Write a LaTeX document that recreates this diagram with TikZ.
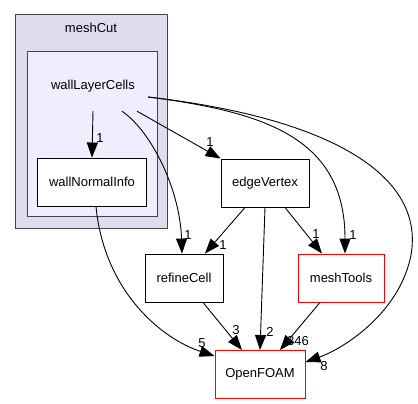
\documentclass[tikz,border=0pt]{standalone}
\usepackage{fontspec}
\setmainfont{Liberation Sans}
\usepackage{xcolor}
\usepackage{tikz}
\usetikzlibrary{positioning, arrows.meta, calc}

\definecolor{clusterfill}{HTML}{DDDDEE}
\definecolor{innerfill}{HTML}{EEEEFF}
\definecolor{clusterline}{HTML}{444444}

\begin{document}
\begin{tikzpicture}[
    x=1pt, y=-1pt,
    >={Triangle[length=15pt, width=11pt]},
    outerdir/.style={rectangle, draw=clusterline, fill=clusterfill, line width=1pt,
                     minimum width=152pt, minimum height=213pt},
    innerdir/.style={rectangle, draw=clusterline, fill=innerfill, line width=1pt,
                     minimum width=130pt, minimum height=164pt},
    dirbox/.style={rectangle, draw=black, fill=white, line width=0.9pt,
                   minimum height=48pt, align=center,
                   font=\fontsize{13}{15}\selectfont},
    extbox/.style={dirbox, draw=red},
    title/.style={font=\fontsize{13}{15}\selectfont},
    dep/.style={->, line width=0.9pt, black},
    lbl/.style={font=\fontsize{13}{15}\selectfont, inner sep=0pt},
]
\useasboundingbox (0,0) rectangle (418,404);

% Directory clusters
\node[outerdir] (meshCutBox) at (91,121.5) {};
\node[title] (meshCut) at (91,28) {meshCut};
\node[innerdir] (wallLayerBox) at (92,134) {};
\node[title, minimum width=110pt, minimum height=50pt] (wallLayerCells) at (93,86) {wallLayerCells};

% Directories
\node[dirbox, minimum width=109pt] (wallNormalInfo) at (92,182) {wallNormalInfo};
\node[dirbox, minimum width=88pt] (edgeVertex) at (265,183) {edgeVertex};
\node[dirbox, minimum width=78pt] (refineCell) at (184,278) {refineCell};
\node[extbox, minimum width=86pt] (meshTools) at (341,278) {meshTools};
\node[extbox, minimum width=90pt] (OpenFOAM) at (260,374.5) {OpenFOAM};

% === Dependencies ===
% from wallLayerCells
\draw[dep] (wallLayerCells.south) -- (wallNormalInfo.north);
\node[lbl] (l1) at (100,138) {1};
\draw[dep] ([xshift=29pt]wallLayerCells.south)
    .. controls (152,132) and (180,190) .. ([xshift=-2pt]refineCell.north);
\node[lbl] (l2) at (188,235) {1};
\draw[dep] ([xshift=44pt]wallLayerCells.south) -- (edgeVertex.north west);
\node[lbl] (l3) at (210,142) {1};
\draw[dep] ([yshift=-11pt]wallLayerCells.east)
    .. controls (265,112) and (345,138) .. ([xshift=4pt]meshTools.north);
\node[lbl] (l4) at (353,235) {1};
\draw[dep] ([yshift=-11pt]wallLayerCells.east)
    .. controls (330,118) and (425,175) .. (411,255)
    .. controls (400,312) and (345,348) .. ([yshift=-12pt]OpenFOAM.north east);
\node[lbl] (l5) at (324,366) {8};

% from wallNormalInfo
\draw[dep] ([xshift=4pt]wallNormalInfo.south)
    .. controls (104,290) and (160,338) .. ([yshift=-6pt]OpenFOAM.north west);
\node[lbl] (l6) at (202,343) {5};

% from edgeVertex
\draw[dep] ([xshift=-20pt]edgeVertex.south) -- ([xshift=21pt]refineCell.north);
\node[lbl] (l7) at (223,245) {1};
\draw[dep] (edgeVertex.south) -- (OpenFOAM.north);
\node[lbl] (l8) at (270,332) {2};
\draw[dep] ([xshift=20pt]edgeVertex.south) -- ([xshift=-19pt]meshTools.north);
\node[lbl] (l9) at (316,234) {1};

% into OpenFOAM
\draw[dep] ([xshift=19pt]refineCell.south) -- ([xshift=-18pt]OpenFOAM.north);
\node[lbl] (l10) at (236,330) {3};
\draw[dep] ([xshift=-21pt]meshTools.south) -- ([xshift=20pt]OpenFOAM.north);
\node[lbl] (l11) at (298,341) {346};

\end{tikzpicture}
\end{document}
